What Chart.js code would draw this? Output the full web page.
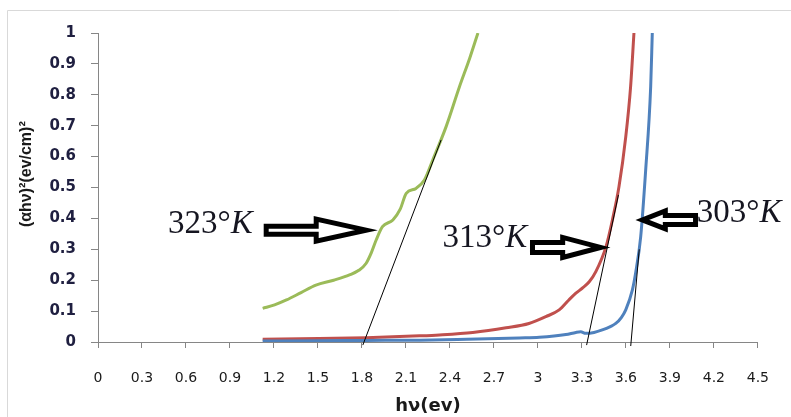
<!DOCTYPE html>
<html>
<head>
<meta charset="utf-8">
<script src="https://cdn.jsdelivr.net/npm/chart.js@4"></script>
<style>
  html, body { margin: 0; padding: 0; background: #fff; }
  canvas { display: block; }
</style>
</head>
<body>
<canvas id="Grafica1" width="791" height="417"></canvas>
<script>
// tick labels
const xTicks = [0, 0.3, 0.6, 0.9, 1.2, 1.5, 1.8, 2.1, 2.4, 2.7, 3, 3.3, 3.6, 3.9, 4.2, 4.5];
const yTicks = [0, 0.1, 0.2, 0.3, 0.4, 0.5, 0.6, 0.7, 0.8, 0.9, 1];

// 323 K (green)
const hv_323 = [1.123, 1.204, 1.285, 1.385, 1.486, 1.607, 1.715, 1.779, 1.829, 1.865, 1.897, 1.94, 2.011, 2.061, 2.102, 2.169, 2.226, 2.283, 2.374, 2.465, 2.536, 2.591];
const ah_323 = [0.109, 0.12, 0.136, 0.16, 0.184, 0.2, 0.217, 0.232, 0.255, 0.29, 0.33, 0.373, 0.395, 0.43, 0.481, 0.497, 0.524, 0.589, 0.697, 0.826, 0.92, 1.0];

// 313 K (red)
const hv_313 = [1.123, 1.507, 1.829, 2.193, 2.328, 2.556, 2.783, 2.939, 3.054, 3.145, 3.211, 3.259, 3.302, 3.35, 3.395, 3.464, 3.508, 3.553, 3.599, 3.632, 3.655];
const ah_313 = [0.009, 0.011, 0.014, 0.02, 0.023, 0.031, 0.046, 0.06, 0.082, 0.104, 0.136, 0.158, 0.174, 0.195, 0.228, 0.308, 0.395, 0.503, 0.664, 0.826, 1.0];

// 303 K (blue)
const hv_303 = [1.123, 1.507, 1.829, 2.193, 2.515, 2.873, 3.01, 3.191, 3.259, 3.292, 3.326, 3.383, 3.439, 3.494, 3.531, 3.57, 3.599, 3.644, 3.667, 3.701, 3.735, 3.769, 3.78];
const ah_303 = [0.003, 0.004, 0.005, 0.006, 0.009, 0.013, 0.015, 0.024, 0.031, 0.033, 0.028, 0.031, 0.039, 0.05, 0.06, 0.08, 0.104, 0.168, 0.225, 0.341, 0.557, 0.826, 1.0];

// tangent lines (band gap extrapolation)
const tan_323 = [[1.806, -0.01], [2.34, 0.654]];
const tan_313 = [[3.332, -0.01], [3.549, 0.476]];
const tan_303 = [[3.633, -0.013], [3.691, 0.3]];

const noteLabels = ["323°", "313°", "303°"];

function pts(xs, ys) {
	return xs.map((v, i) => ({ x: v, y: ys[i] }));
}
function seg(p) {
	return p.map(q => ({ x: q[0], y: q[1] }));
}

// where the labels and block arrows go (in data units)
const notePos = [
	{ tx: 0.477, ty: 0.353, ax0: 1.147, ax1: 1.829, ay: 0.362, shaft: 4, head: 11, headLen: 50 },
	{ tx: 2.349, ty: 0.307, ax0: 2.963, ax1: 3.428, ay: 0.306, shaft: 5, head: 10, headLen: 38 },
	{ tx: 4.084, ty: 0.388, ax0: 4.075, ax1: 3.712, ay: 0.395, shaft: 4.5, head: 9, headLen: 23 },
];

function drawArrow(ctx, x0, x1, y, shaft, head, headLen) {
	const dir = x1 > x0 ? 1 : -1;
	const hx = x1 - dir * headLen;
	ctx.beginPath();
	ctx.moveTo(x0, y - shaft);
	ctx.lineTo(hx, y - shaft);
	ctx.lineTo(hx, y - head);
	ctx.lineTo(x1, y);
	ctx.lineTo(hx, y + head);
	ctx.lineTo(hx, y + shaft);
	ctx.lineTo(x0, y + shaft);
	ctx.closePath();
	ctx.fillStyle = "#fff";
	ctx.fill();
	ctx.lineWidth = 5;
	ctx.lineJoin = "miter";
	ctx.strokeStyle = "#000";
	ctx.stroke();
}

const notesPlugin = {
	id: "notes",
	beforeDraw(chart) {
		const c = chart.ctx;
		c.save();
		c.strokeStyle = "#d9d9d9";
		c.lineWidth = 1;
		c.beginPath();
		c.moveTo(7.5, 420);
		c.lineTo(7.5, 10.5);
		c.lineTo(791, 10.5);
		c.stroke();
		c.restore();
	},
	afterDraw(chart) {
		const c = chart.ctx;
		const xs = chart.scales.x, ys = chart.scales.y;
		c.save();
		notePos.forEach((n, i) => {
			const tx = xs.getPixelForValue(n.tx), ty = ys.getPixelForValue(n.ty);
			c.fillStyle = "#151520";
			c.textBaseline = "alphabetic";
			c.font = "33px 'Liberation Serif'";
			c.fillText(noteLabels[i], tx, ty);
			const w = c.measureText(noteLabels[i]).width;
			c.font = "italic 33px 'Liberation Serif'";
			c.fillText("K", tx + w, ty);
			drawArrow(c, xs.getPixelForValue(n.ax0), xs.getPixelForValue(n.ax1), ys.getPixelForValue(n.ay), n.shaft, n.head, n.headLen);
		});
		c.restore();
	},
};

const ctx = document.getElementById("Grafica1").getContext("2d");
let Grafica1 = new Chart(ctx, {
	type: "line",
	data: {
		datasets: [
			{ label: "303°K", data: pts(hv_303, ah_303), borderColor: "#4F81BD", borderWidth: 3, pointRadius: 0, cubicInterpolationMode: "monotone", order: 2 },
			{ label: "313°K", data: pts(hv_313, ah_313), borderColor: "#C0504D", borderWidth: 3, pointRadius: 0, cubicInterpolationMode: "monotone", order: 2 },
			{ label: "323°K", data: pts(hv_323, ah_323), borderColor: "#9BBB59", borderWidth: 3, pointRadius: 0, cubicInterpolationMode: "monotone", order: 2 },
			{ label: "t323", data: seg(tan_323), borderColor: "#000", borderWidth: 1, pointRadius: 0, clip: false, order: 1 },
			{ label: "t313", data: seg(tan_313), borderColor: "#000", borderWidth: 1, pointRadius: 0, clip: false, order: 1 },
			{ label: "t303", data: seg(tan_303), borderColor: "#000", borderWidth: 1, pointRadius: 0, clip: false, order: 1 },
		],
	},
	options: {
		responsive: false,
		animation: false,
		devicePixelRatio: 1,
		layout: { padding: { top: 33, right: 32, left: 0, bottom: 0 } },
		plugins: { legend: { display: false }, tooltip: { enabled: false } },
		scales: {
			x: {
				type: "linear",
				min: 0,
				max: 4.5,
				afterBuildTicks: axis => { axis.ticks = xTicks.map(v => ({ value: v })); },
				afterFit: axis => { axis.height = 75; },
				grid: { drawOnChartArea: false, drawTicks: true, tickLength: 6, color: "#868686" },
				border: { color: "#868686", width: 1 },
				ticks: {
					autoSkip: false,
					maxRotation: 0,
					padding: 22,
					color: "#1a1a1a",
					font: { size: 14, family: "DejaVu Sans" },
					callback: v => String(v),
				},
				title: {
					display: true,
					text: "hν(ev)",
					color: "#1a1a1a",
					padding: { top: 0, bottom: 0 },
					font: { size: 18, weight: "bold", family: "DejaVu Sans" },
				},
			},
			y: {
				min: 0,
				max: 1,
				afterBuildTicks: axis => { axis.ticks = yTicks.map(v => ({ value: v })); },
				afterFit: axis => { axis.width = 98; },
				grid: { drawOnChartArea: false, drawTicks: true, tickLength: 7, color: "#868686" },
				border: { color: "#868686", width: 1 },
				ticks: {
					padding: 15,
					color: "#1f1f40",
					font: { size: 15, weight: "bold", family: "DejaVu Sans" },
					callback: v => String(v),
				},
				title: {
					display: true,
					// leading spaces nudge the title up a bit like the original
					text: "      (αhν)²(ev/cm)²",
					color: "#1a1a1a",
					padding: { top: 17, bottom: 0 },
					font: { size: 16, weight: "bold", family: "Liberation Sans" },
				},
			},
		},
	},
	plugins: [notesPlugin],
});
</script>
</body>
</html>
